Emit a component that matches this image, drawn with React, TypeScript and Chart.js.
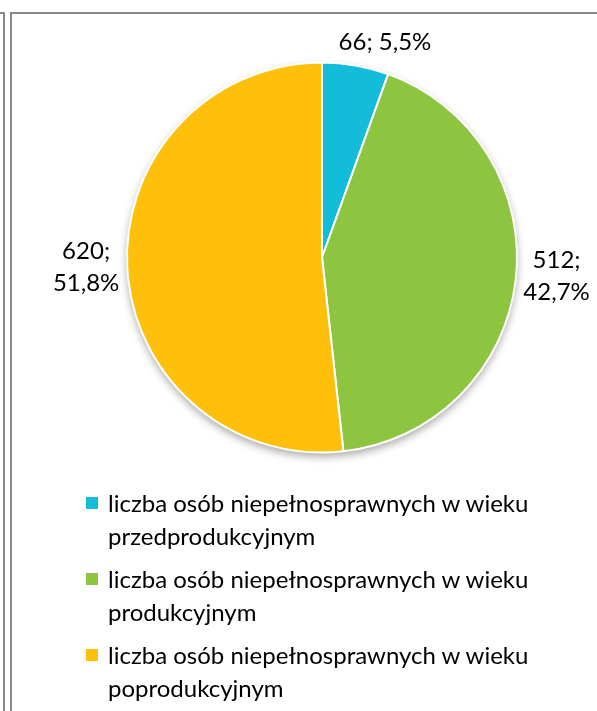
import React, { useEffect, useRef } from "react";
import { Chart, registerables } from "chart.js";

Chart.register(...registerables);

const categories = [
  "liczba osób niepełnosprawnych w wieku przedprodukcyjnym",
  "liczba osób niepełnosprawnych w wieku produkcyjnym",
  "liczba osób niepełnosprawnych w wieku poprodukcyjnym",
];
const values = [66, 512, 620];
const percentLabels = ["5,5%", "42,7%", "51,8%"];
const colors = ["#13BDD9", "#8DC540", "#FEC00A"];

const FONT = "Lato, 'Open Sans', sans-serif";

const shadowPlugin = {
  id: "pieShadow",
  beforeDatasetsDraw(chart: any) {
    const meta = chart.getDatasetMeta(0);
    const arc = meta.data[0];
    if (!arc) return;
    const { x, y, outerRadius } = arc.getProps(["x", "y", "outerRadius"], true);
    const ctx = chart.ctx;
    ctx.save();
    ctx.shadowColor = "rgba(0,0,0,0.35)";
    ctx.shadowBlur = 8;
    ctx.shadowOffsetY = 4;
    ctx.beginPath();
    ctx.arc(x, y, outerRadius, 0, Math.PI * 2);
    ctx.fillStyle = "#ffffff";
    ctx.fill();
    ctx.restore();
  },
};

const labelPlugin = {
  id: "outsideLabels",
  afterDatasetsDraw(chart: any, _args: any, opts: any) {
    const ctx = chart.ctx;
    const meta = chart.getDatasetMeta(0);
    const data = chart.data.datasets[0].data as number[];
    ctx.save();
    ctx.font = `${opts.size}px ${FONT}`;
    ctx.fillStyle = "#000000";
    ctx.textAlign = "center";
    ctx.textBaseline = "middle";
    meta.data.forEach((arc: any, i: number) => {
      const { x, y, startAngle, endAngle, outerRadius } = arc.getProps(
        ["x", "y", "startAngle", "endAngle", "outerRadius"],
        true
      );
      const mid = (startAngle + endAngle) / 2;
      const lines: string[] = opts.split[i]
        ? [`${data[i]};`, percentLabels[i]]
        : [`${data[i]}; ${percentLabels[i]}`];
      const w = Math.max(...lines.map((l) => ctx.measureText(l).width));
      const h = lines.length * opts.lineHeight;
      const r = outerRadius + opts.gap;
      const cos = Math.cos(mid);
      const sin = Math.sin(mid);
      const nudge = opts.nudge[i] || [0, 0];
      const cxL = x + r * cos + cos * (w / 2) + nudge[0];
      const cyL = y + r * sin + sin * (h / 2) + nudge[1];
      lines.forEach((l, j) => {
        ctx.fillText(l, cxL, cyL - h / 2 + opts.lineHeight * (j + 0.5));
      });
    });
    ctx.restore();
  },
};

export default function App() {
  const ref = useRef<HTMLCanvasElement>(null);
  useEffect(() => {
    document.body.style.margin = "0";
    const chart = new Chart(ref.current as HTMLCanvasElement, {
      type: "pie",
      data: {
        labels: categories,
        datasets: [
          {
            data: values,
            backgroundColor: colors,
            borderColor: "#ffffff",
            borderWidth: 2,
          },
        ],
      },
      options: {
        animation: false,
        responsive: false,
        maintainAspectRatio: false,
        layout: { padding: { left: 126, right: 79, top: 61, bottom: 257 } },
        plugins: {
          legend: { display: false },
          tooltip: { enabled: false },
          outsideLabels: {
            size: 24,
            lineHeight: 32,
            gap: 8,
            split: [false, true, true],
            nudge: [[20, 0], [0, -9], [0, -3]],
          },
        } as any,
      },
      plugins: [shadowPlugin, labelPlugin],
    });
    return () => chart.destroy();
  }, []);

  const legendTop = [486, 562, 638];

  return (
    <div style={{ position: "absolute", left: 0, top: 0, width: 597, height: 711, overflow: "hidden", background: "#fff" }}>
      <div style={{ position: "absolute", left: 3, top: 12, width: 2, height: 700, background: "#8a8a8a" }} />
      <div style={{ position: "absolute", left: 0, top: 12, width: 5, height: 2, background: "#8a8a8a" }} />
      <div style={{ position: "absolute", left: 10, top: 12, width: 2, height: 700, background: "#888888" }} />
      <div style={{ position: "absolute", left: 10, top: 12, width: 600, height: 2, background: "#888888" }} />
      <canvas ref={ref} width={597} height={711} style={{ position: "absolute", left: 0, top: 0, width: 597, height: 711 }} />
      {categories.map((c, i) => (
        <div key={c} style={{ position: "absolute", left: 86, top: legendTop[i], width: 490 }}>
          <div style={{ position: "absolute", left: 0, top: 11, width: 12, height: 12, background: colors[i] }} />
          <div style={{ position: "absolute", left: 22, top: 0, width: 460, fontFamily: FONT, fontSize: 24, lineHeight: "33px", color: "#000" }}>
            {c}
          </div>
        </div>
      ))}
    </div>
  );
}
